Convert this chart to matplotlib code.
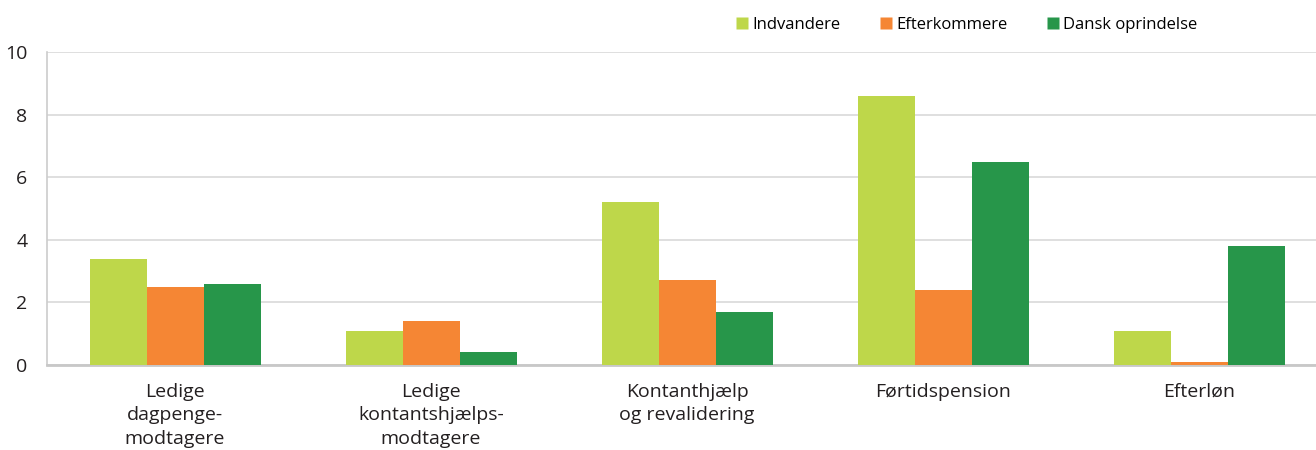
import matplotlib
matplotlib.use("Agg")
import matplotlib.pyplot as plt
from matplotlib.lines import Line2D
import numpy as np

categories = ["Ledige\ndagpenge-\nmodtagere", "Ledige\nkontantshjælps-\nmodtagere",
              "Kontanthjælp\nog revalidering", "Førtidspension", "Efterløn"]
series_names = ["Indvandere", "Efterkommere", "Dansk oprindelse"]
indvandere = [3.4, 1.1, 5.2, 8.6, 1.1]
efterkommere = [2.5, 1.4, 2.7, 2.4, 0.1]
dansk = [2.6, 0.4, 1.7, 6.5, 3.8]
colors = ["#bed74a", "#f58634", "#27964a"]
yticks = [0, 2, 4, 6, 8, 10]

plt.rcParams['font.family'] = ['Open Sans', 'DejaVu Sans']

fig = plt.figure(figsize=(13.16, 4.5), dpi=100)
ax = fig.add_axes([47/1316, 1-365/450, 1-47/1316, (365-52)/450])

x = np.arange(len(categories))
w = 57/256
for i, (vals, c) in enumerate(zip([indvandere, efterkommere, dansk], colors)):
    ax.bar(x + (i-1)*w, vals, width=w, color=c, edgecolor='none', zorder=3)

ax.set_xlim(-0.5, -0.5 + (1316-47)/256)
ax.set_ylim(0, 10)
ax.set_yticks(yticks)
ax.set_yticklabels([str(t) for t in yticks], fontsize=14, color='#231f20')
ax.yaxis.grid(True, color='#d9d9d9', linewidth=1.2, zorder=0)
ax.set_xticks(x)
ax.set_xticklabels(categories, fontsize=14, color='#231f20', linespacing=1.38)
ax.tick_params(axis='x', length=0, pad=13)
ax.tick_params(axis='y', length=0, pad=14)
for s in ['top', 'right']:
    ax.spines[s].set_visible(False)
ax.spines['left'].set_color('#cccccc')
ax.spines['left'].set_linewidth(1.2)
ax.spines['bottom'].set_color('#c8c8c8')
ax.spines['bottom'].set_linewidth(2)

handles = [Line2D([], [], marker='s', linestyle='none', markersize=9,
                  markerfacecolor=c, markeredgecolor='none') for c in colors]
fig.legend(handles, series_names, loc='center left', bbox_to_anchor=(732/1316, 1-25/450),
           ncol=3, frameon=False, fontsize=12, handletextpad=0.0,
           columnspacing=2.15, handlelength=1.2, borderaxespad=0, borderpad=0)

fig.savefig("out.png", dpi=100)
